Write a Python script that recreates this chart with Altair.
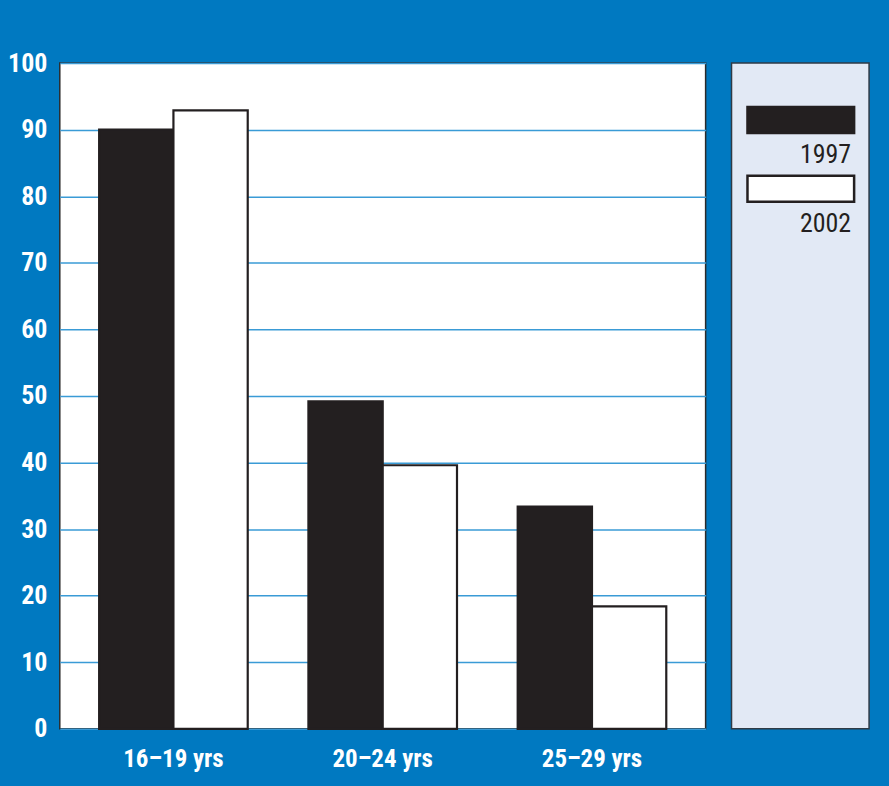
import altair as alt
import pandas as pd

categories = ["16–19 yrs", "20–24 yrs", "25–29 yrs"]
series = ["1997", "2002"]
values_1997 = [90.0, 49.2, 33.4]
values_2002 = [92.9, 39.6, 18.4]
y_ticks = [0, 10, 20, 30, 40, 50, 60, 70, 80, 90, 100]

rows = []
for c, a, b in zip(categories, values_1997, values_2002):
    rows.append({"age": c, "year": "1997", "value": a})
    rows.append({"age": c, "year": "2002", "value": b})
df = pd.DataFrame(rows)
leg = pd.DataFrame({"year": series})

BLUE = "#0079C1"
DARK = "#231F20"
FONT = "Liberation Sans Narrow, Roboto Condensed, Liberation Sans, sans-serif"

fill_scale = alt.Scale(domain=series, range=[DARK, "#FFFFFF"])

main = alt.Chart(df).mark_bar(stroke=DARK, strokeWidth=2.2).encode(
    x=alt.X("age:N", sort=categories, title=None,
            scale=alt.Scale(paddingInner=0.29, paddingOuter=0.188),
            axis=alt.Axis(labelAngle=0, labelColor="white", labelFont=FONT,
                          labelFontWeight="bold", labelFontSize=25,
                          labelPadding=18, ticks=False, domain=False, grid=False)),
    xOffset=alt.XOffset("year:N", sort=series, scale=alt.Scale(paddingInner=0.0)),
    y=alt.Y("value:Q", title=None,
            scale=alt.Scale(domain=[0, 100], nice=False),
            axis=alt.Axis(values=y_ticks, labelColor="white", labelFont=FONT,
                          labelFontWeight="bold", labelFontSize=26,
                          labelPadding=13,
                          ticks=False, domain=False,
                          gridColor="#3A9BD6", gridWidth=1.5, zindex=0)),
    fill=alt.Fill("year:N", scale=fill_scale, legend=None),
).properties(width=648, height=668,
             view=alt.ViewBackground(fill="white", stroke="#2B2B2B", strokeWidth=1.5))

band_y = alt.Y("year:N", sort=series, axis=None,
               scale=alt.Scale(range=[44, 139], paddingInner=0.623, paddingOuter=0))

swatch = alt.Chart(leg).mark_rect(stroke=DARK, strokeWidth=2.5).encode(
    x=alt.value(16), x2=alt.value(123),
    y=band_y,
    fill=alt.Fill("year:N", scale=fill_scale, legend=None),
)
labels = alt.Chart(leg).mark_text(
    align="right", baseline="alphabetic", dy=43, font=FONT, fontSize=26, color=DARK
).encode(
    x=alt.value(120),
    y=alt.Y("year:N", sort=series, axis=None, bandPosition=0.5,
            scale=alt.Scale(range=[44, 139], paddingInner=0.623, paddingOuter=0)),
    text="year:N",
)
legend_panel = alt.layer(swatch, labels).properties(
    width=138, height=668,
    view=alt.ViewBackground(fill="#E2E9F5", stroke="#2F3A45", strokeWidth=1.5))

chart = alt.hconcat(main, legend_panel, spacing=24).properties(
    background=BLUE,
    padding={"left": 6, "top": 48, "right": 19, "bottom": 13},
).configure_view(strokeWidth=1.5)

chart.save("out.html", embed_options={"renderer": "svg", "actions": False})
